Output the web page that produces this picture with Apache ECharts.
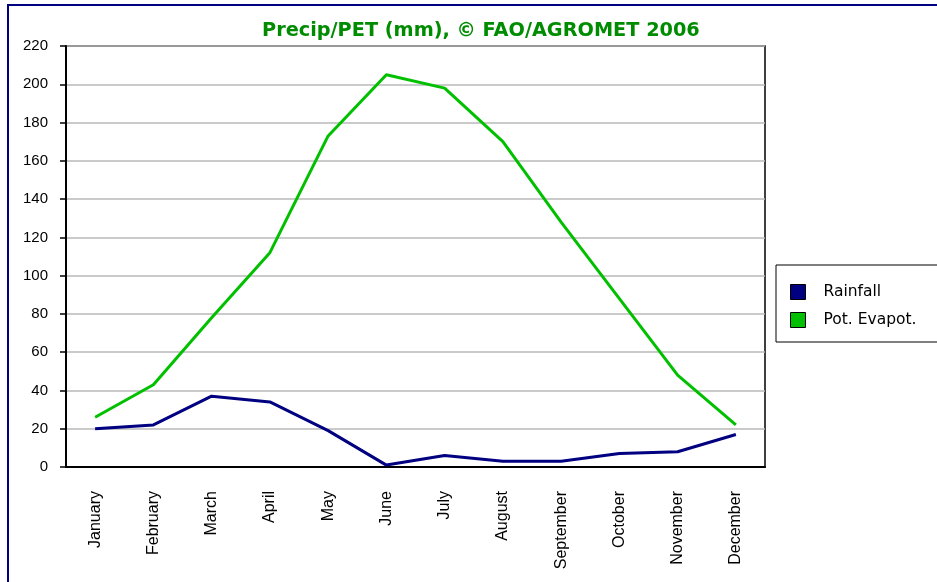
<!DOCTYPE html>
<html>
<head>
<meta charset="utf-8">
<script src="https://cdn.jsdelivr.net/npm/echarts@6/dist/echarts.min.js"></script>
<style>
  html, body { margin: 0; padding: 0; background: #fff; }
  #myChart { width: 937px; height: 582px; }
</style>
</head>
<body>
<div id="myChart"></div>
<script>
var months = ['January', 'February', 'March', 'April', 'May', 'June', 'July',
              'August', 'September', 'October', 'November', 'December'];
var rainfall = [20, 22, 37, 34, 19, 1, 6, 3, 3, 7, 8, 17];
var petValues = [26, 43, 78, 112, 173, 205, 198, 170, 128, 88, 48, 22];

var myChart = echarts.init(document.getElementById('myChart'));

var option = {
    animation: false,
    backgroundColor: '#fff',
    title: {
        text: 'Precip/PET (mm), \u00a9 FAO/AGROMET 2006',
        left: 262,
        top: 21,
        padding: 0,
        textStyle: {
            color: '#008c00',
            fontFamily: 'DejaVu Sans',
            fontWeight: 'bold',
            fontSize: 19.3
        }
    },
    graphic: [{
        type: 'rect',
        shape: { x: 8, y: 5, width: 1000, height: 1000 },
        style: { fill: 'none', stroke: '#000080', lineWidth: 2 },
        silent: true
    }],
    legend: {
        orient: 'vertical',
        left: 776,
        top: 265,
        padding: [19, 80, 14, 14],
        itemGap: 12,
        itemWidth: 15,
        itemHeight: 15,
        icon: 'rect',
        borderColor: '#000',
        borderWidth: 1,
        textStyle: { color: '#000', fontFamily: 'DejaVu Sans', fontSize: 15.5, lineHeight: 16, padding: [0, 0, 0, 13] },
        itemStyle: { borderColor: '#000', borderWidth: 1 },
        data: ['Rainfall', 'Pot. Evapot.']
    },
    grid: {
        left: 66,
        top: 46,
        right: 172,
        bottom: 115,
        show: true,
        borderColor: '#000',
        borderWidth: 1.5
    },
    xAxis: {
        type: 'category',
        boundaryGap: true,
        data: months,
        axisLine: { lineStyle: { color: '#000', width: 2 } },
        axisTick: { show: false },
        axisLabel: {
            rotate: 90,
            margin: 24,
            color: '#000',
            fontFamily: 'Liberation Sans',
            fontSize: 16
        }
    },
    yAxis: {
        type: 'value',
        min: 0,
        max: 220,
        interval: 20,
        axisLine: { show: true, lineStyle: { color: '#000', width: 2 } },
        axisTick: { show: true, length: 6, lineStyle: { color: '#000', width: 1.5 } },
        axisLabel: {
            margin: 18,
            color: '#000',
            fontFamily: 'Liberation Sans',
            fontSize: 15
        },
        splitLine: { lineStyle: { color: '#b8b8b8', width: 1.5 } }
    },
    series: [{
        name: 'Rainfall',
        type: 'line',
        data: rainfall,
        symbol: 'none',
        color: '#000080',
        lineStyle: { color: '#000080', width: 3 }
    }, {
        name: 'Pot. Evapot.',
        type: 'line',
        data: petValues,
        symbol: 'none',
        color: '#00c000',
        lineStyle: { color: '#00c000', width: 3 }
    }]
};

myChart.setOption(option);
</script>
</body>
</html>
